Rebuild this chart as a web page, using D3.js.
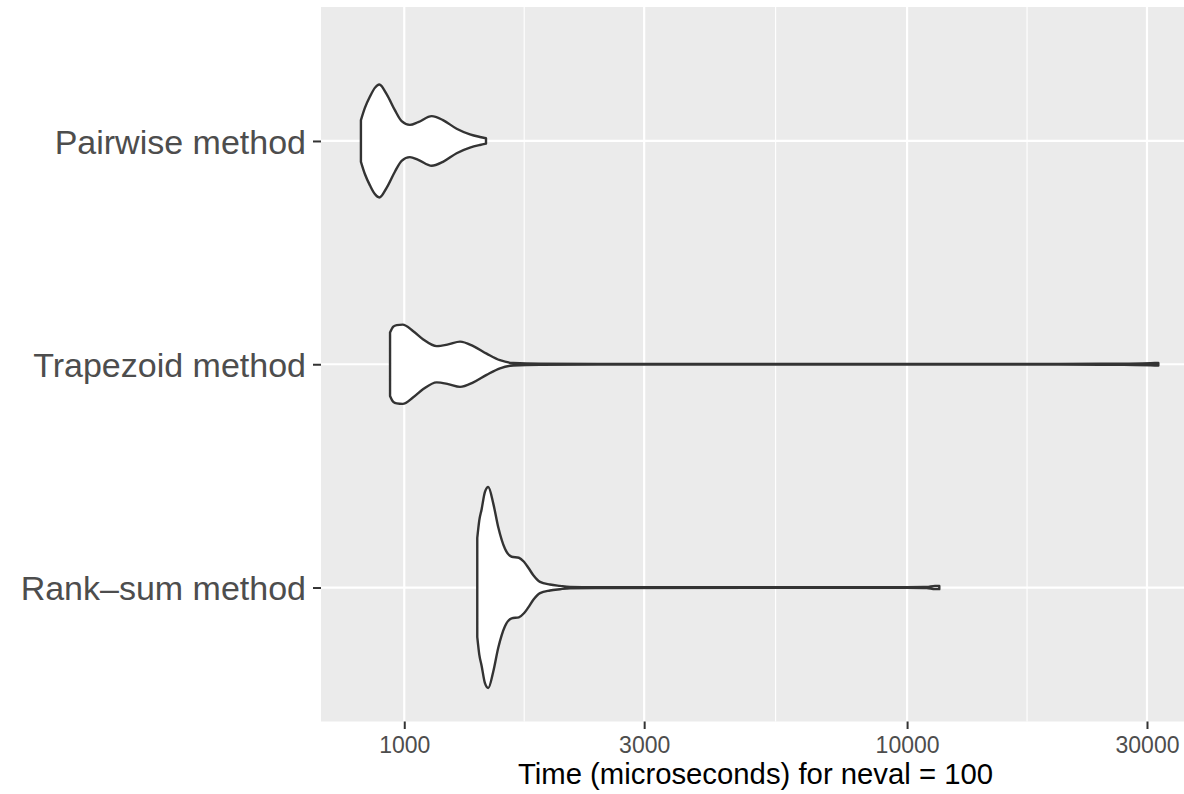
<!DOCTYPE html>
<html>
<head>
<meta charset="utf-8">
<script src="https://cdn.jsdelivr.net/npm/d3@7"></script>
<style>
  body { margin: 0; background: #fff; }
  text { font-family: "Liberation Sans", Arial, Helvetica, sans-serif; }
</style>
</head>
<body>
<svg id="chart" width="1184" height="794"></svg>
<script>
// Violin plot of timings, log x axis

var methods = ["Pairwise method", "Trapezoid method", "Rank\u2013sum method"];

// density profiles (time in microseconds, relative density)
var pairwiseTimes = [820, 835, 855, 874, 892, 923, 958, 988, 1026, 1066, 1134, 1194, 1271, 1351, 1414, 1454];
var pairwiseDens  = [0.208, 0.330, 0.445, 0.530, 0.564, 0.465, 0.307, 0.198, 0.161, 0.188, 0.248, 0.208, 0.122, 0.066, 0.040, 0.027];

var trapezoidTimes = [937, 951, 966, 993, 1042, 1091, 1160, 1223, 1291, 1372, 1458, 1550, 1647, 1862, 3000, 8000, 20000, 27000, 30500, 31600];
var trapezoidDens  = [0.317, 0.376, 0.391, 0.396, 0.33, 0.248, 0.181, 0.198, 0.226, 0.181, 0.106, 0.040, 0.012, 0.005, 0.003, 0.003, 0.0035, 0.006, 0.011, 0.013];

var rankTimes = [1397, 1410, 1425, 1447, 1469, 1503, 1538, 1586, 1635, 1690, 1730, 1765, 1806, 1862, 1949, 2040, 2136, 2400, 5000, 10000, 10940, 11360, 11590];
var rankDens  = [0.495, 0.670, 0.780, 0.955, 1.003, 0.840, 0.601, 0.386, 0.307, 0.297, 0.257, 0.198, 0.122, 0.056, 0.030, 0.017, 0.007, 0.004, 0.003, 0.0035, 0.005, 0.016, 0.016];

var xTicks = [1000, 3000, 10000, 30000];
var xLimits = [683, 35540];
var xTitle = "Time (microseconds) for neval = 100";

var profiles = [
  {method: methods[0], times: pairwiseTimes, dens: pairwiseDens},
  {method: methods[1], times: trapezoidTimes, dens: trapezoidDens},
  {method: methods[2], times: rankTimes, dens: rankDens}
];

///////////////////////////////////////////////////////////////////////////////
// Layout

var panel = {left: 321, right: 1184, top: 7, bottom: 721.5};
var svg = d3.select("#chart");

var x = d3.scaleLog().domain(xLimits).range([panel.left, panel.right]);
var y = d3.scalePoint().domain(methods).range([panel.top, panel.bottom]).padding(0.6);

var maxDens = d3.max(profiles, function (p) { return d3.max(p.dens); });
var w = d3.scaleLinear().domain([0, maxDens]).range([0, 0.45 * y.step()]);

// minor breaks sit half way between majors in log space
var xMinor = d3.pairs(xTicks).map(function (p) { return Math.sqrt(p[0] * p[1]); });

///////////////////////////////////////////////////////////////////////////////
// Panel and grid

svg.append("rect")
  .attr("x", panel.left).attr("y", panel.top)
  .attr("width", panel.right - panel.left).attr("height", panel.bottom - panel.top)
  .attr("fill", "#EBEBEB");

var grid = svg.append("g").attr("stroke", "#fff");

grid.selectAll("line.minor").data(xMinor).enter().append("line")
  .attr("class", "minor")
  .attr("x1", function (d) { return x(d); }).attr("x2", function (d) { return x(d); })
  .attr("y1", panel.top).attr("y2", panel.bottom)
  .attr("stroke-width", 1.1);

grid.selectAll("line.vmajor").data(xTicks).enter().append("line")
  .attr("class", "vmajor")
  .attr("x1", function (d) { return x(d); }).attr("x2", function (d) { return x(d); })
  .attr("y1", panel.top).attr("y2", panel.bottom)
  .attr("stroke-width", 2.2);

grid.selectAll("line.hmajor").data(methods).enter().append("line")
  .attr("class", "hmajor")
  .attr("x1", panel.left).attr("x2", panel.right)
  .attr("y1", function (d) { return y(d); }).attr("y2", function (d) { return y(d); })
  .attr("stroke-width", 2.2);

///////////////////////////////////////////////////////////////////////////////
// Violins

svg.append("g").selectAll("path").data(profiles).enter().append("path")
  .attr("d", function (p) {
    var cy = y(p.method);
    var pts = p.times.map(function (t, i) { return {t: t, d: p.dens[i]}; });
    return d3.area()
      .x(function (d) { return x(d.t); })
      .y0(function (d) { return cy - w(d.d); })
      .y1(function (d) { return cy + w(d.d); })
      .curve(d3.curveMonotoneX)(pts);
  })
  .attr("fill", "#fff")
  .attr("stroke", "#333333")
  .attr("stroke-width", 2.4)
  .attr("stroke-linejoin", "round");

///////////////////////////////////////////////////////////////////////////////
// Axes

var xAxis = svg.append("g")
  .attr("transform", "translate(0," + panel.bottom + ")")
  .call(d3.axisBottom(x).tickValues(xTicks).tickFormat(d3.format("d")).tickSize(7.5).tickPadding(5));
xAxis.select(".domain").remove();
xAxis.selectAll(".tick line").attr("stroke", "#333").attr("stroke-width", 2);
xAxis.selectAll(".tick text")
  .attr("fill", "#4D4D4D").attr("font-size", 23).attr("font-family", null)
  .attr("dy", null).attr("y", 31.8);

var yAxis = svg.append("g")
  .attr("transform", "translate(" + panel.left + ",0)")
  .call(d3.axisLeft(y).tickSize(8).tickPadding(7));
yAxis.select(".domain").remove();
yAxis.selectAll(".tick line").attr("stroke", "#333").attr("stroke-width", 2);
yAxis.selectAll(".tick text")
  .attr("fill", "#4D4D4D").attr("font-size", 34).attr("font-family", null)
  .attr("dy", "0.36em");

svg.append("text")
  .attr("x", (panel.left + panel.right) / 2 + 3)
  .attr("y", 784)
  .attr("text-anchor", "middle")
  .attr("font-size", 29.3)
  .attr("fill", "#000")
  .text(xTitle);
</script>
</body>
</html>
